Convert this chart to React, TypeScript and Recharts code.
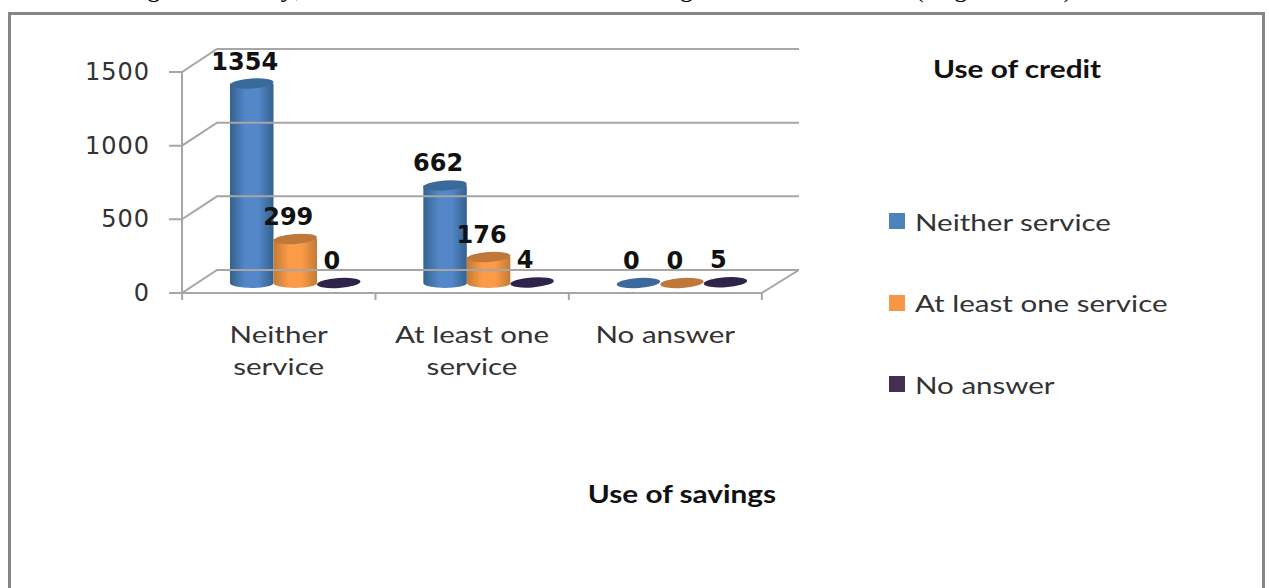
import { BarChart, Bar, XAxis, YAxis, Legend, LabelList, Label } from 'recharts';

const categories = ['Neither service', 'At least one service', 'No answer'];
const neitherValues = [1354, 662, 0];
const atLeastOneValues = [299, 176, 0];
const noAnswerValues = [0, 4, 5];
const yTicks = [0, 500, 1000, 1500];
const clippedWords = [
  { text: 'using', left: 92 },
  { text: 'they,', left: 240 },
  { text: 'savings', left: 610 },
  { text: '(Figure 1.2)', left: 915 },
];

const data = categories.map((name, i) => ({
  name,
  neither: neitherValues[i],
  atLeastOne: atLeastOneValues[i],
  noAnswer: noAnswerValues[i],
}));

const GRID = '#a6a6a6';
const TEXT_FONT = "Lato, 'Open Sans', sans-serif";
const STRETCH = 1.23; // the picture's text is wider than any installed font
const STRETCH_BOLD = 1.24;
const DEPTH_X = 35;
const DEPTH_Y = 23;
const BAR_DX = 17;
const BAR_DY = 10;
const BAND = 193;
const TICK_GAP = 8; // recharts pushes the tick this far off the axis line

const tones = {
  neither: { id: 'gradBlue', side: '#34618f', mid: '#5387c8', top: '#3a6a9c' },
  atLeastOne: { id: 'gradOrange', side: '#c47a35', mid: '#fb9b47', top: '#c0783a' },
  noAnswer: { id: 'gradDark', side: '#2a1f45', mid: '#43305f', top: '#2e2349' },
};

const Cylinder = (props: any) => {
  const { x, y, width, height, tone } = props;
  const t = tones[tone as keyof typeof tones];
  const left = x + BAR_DX;
  const right = left + width;
  const top = y - BAR_DY;
  const bottom = top + height;
  const cx = left + width / 2;
  const ry = 5;
  return (
    <g>
      {height > 1 && (
        <path
          d={`M${left},${top} L${left},${bottom} A${width / 2},${ry} 0 0 0 ${right},${bottom} L${right},${top} Z`}
          fill={`url(#${t.id})`}
        />
      )}
      <ellipse
        cx={cx}
        cy={top}
        rx={width / 2}
        ry={ry}
        fill={t.top}
        transform={`rotate(-4 ${cx} ${top})`}
      />
    </g>
  );
};

const YTick = ({ x, y, payload }: any) => {
  const ax = x + TICK_GAP;
  return (
    <g>
      <path
        d={`M${ax - 13},${y} L${ax},${y} L${ax + DEPTH_X},${y - DEPTH_Y} L799,${y - DEPTH_Y}`}
        fill='none'
        stroke={GRID}
        strokeWidth={2}
      />
      <text
        x={x - 24}
        y={y + 8}
        textAnchor='end'
        fontFamily='DejaVu Sans'
        fontSize={24}
        letterSpacing={1}
        fill='#333'
      >
        {payload.value}
      </text>
    </g>
  );
};

const XTick = ({ x, y, payload, index }: any) => {
  const axisY = y - TICK_GAP;
  const words = String(payload.value).split(' ');
  const lines =
    payload.value === 'No answer'
      ? [payload.value]
      : [words.slice(0, -1).join(' '), words[words.length - 1]];
  return (
    <g>
      <line x1={x - BAND / 2} x2={x - BAND / 2} y1={axisY} y2={axisY + 7} stroke={GRID} strokeWidth={2} />
      {index === categories.length - 1 && (
        <path
          d={`M${x + BAND / 2},${axisY + 7} L${x + BAND / 2},${axisY} L${x + BAND / 2 + DEPTH_X + 2},${axisY - DEPTH_Y}`}
          fill='none'
          stroke={GRID}
          strokeWidth={2}
        />
      )}
      {lines.map((line, i) => (
        <text
          key={line}
          transform={`translate(${x} ${axisY + 50 + i * 32}) scale(${STRETCH} 1)`}
          textAnchor='middle'
          fontFamily={TEXT_FONT}
          fontSize={24}
          fill='#333'
        >
          {line}
        </text>
      ))}
    </g>
  );
};

const ValueLabel = ({ x, y, width, value }: any) => (
  <text
    x={x + BAR_DX + width / 2 - 7}
    y={y - BAR_DY - 14}
    textAnchor='middle'
    fontFamily='DejaVu Sans'
    fontWeight='bold'
    fontSize={24}
    fill='#111'
  >
    {value}
  </text>
);

const SavingsTitle = ({ viewBox }: any) => {
  const cx = viewBox.x + viewBox.width / 2 + 210;
  return (
    <text
      transform={`translate(${cx} ${viewBox.y + 210}) scale(${STRETCH_BOLD} 1)`}
      textAnchor='middle'
      fontFamily={TEXT_FONT}
      fontWeight='bold'
      fontSize={24}
      fill='#111'
    >
      Use of savings
    </text>
  );
};

// zero height so the legend takes no room from the plot area
const LegendBox = ({ payload }: any) => (
  <div style={{ position: 'relative', width: 320, height: 0 }}>
    <div
      style={{
        position: 'absolute',
        left: 44,
        top: 0,
        fontFamily: TEXT_FONT,
        fontWeight: 'bold',
        fontSize: 24,
        lineHeight: '30px',
        color: '#111',
        whiteSpace: 'nowrap',
        transform: `scaleX(${STRETCH_BOLD})`,
        transformOrigin: 'left',
      }}
    >
      Use of credit
    </div>
    {(payload || []).map((entry: any, i: number) => (
      <div
        key={entry.value}
        style={{
          position: 'absolute',
          left: 0,
          top: 152 + i * 81.5,
          display: 'flex',
          alignItems: 'center',
          height: 30,
          whiteSpace: 'nowrap',
        }}
      >
        <span style={{ width: 16, height: 16, marginRight: 10, background: entry.color, display: 'block' }} />
        <span
          style={{
            fontFamily: TEXT_FONT,
            fontSize: 24,
            color: '#333',
            transform: `scaleX(${STRETCH})`,
            transformOrigin: 'left',
          }}
        >
          {entry.value}
        </span>
      </div>
    ))}
  </div>
);

export default function App() {
  return (
    <div style={{ position: 'absolute', left: 0, top: 0, width: 1269, height: 588, overflow: 'hidden', background: '#fff' }}>
      {clippedWords.map((w) => (
        <span
          key={w.text}
          style={{
            position: 'absolute',
            left: w.left,
            top: -26,
            fontFamily: "'Liberation Serif', serif",
            fontSize: 26,
            lineHeight: '30px',
            whiteSpace: 'nowrap',
            letterSpacing: 3,
            color: '#000',
          }}
        >
          {w.text}
        </span>
      ))}
      <div
        style={{
          position: 'absolute',
          left: 8,
          top: 12,
          width: 1257,
          height: 600,
          border: '3px solid #868686',
          boxSizing: 'border-box',
        }}
      />
      <div style={{ position: 'absolute', left: 0, top: 0 }}>
        <BarChart
          width={1269}
          height={588}
          data={data}
          margin={{ top: 72, right: 507, bottom: 0, left: 122 }}
          barCategoryGap={27}
          barGap={0}
          barSize={43.5}
        >
          <defs>
            {Object.values(tones).map((t) => (
              <linearGradient key={t.id} id={t.id} x1='0' x2='1' y1='0' y2='0'>
                <stop offset='0' stopColor={t.side} />
                <stop offset='0.35' stopColor={t.mid} />
                <stop offset='0.65' stopColor={t.mid} />
                <stop offset='1' stopColor={t.side} />
              </linearGradient>
            ))}
          </defs>
          <XAxis
            dataKey='name'
            height={295}
            interval={0}
            tickLine={false}
            axisLine={{ stroke: GRID, strokeWidth: 2 }}
            tick={<XTick />}
          >
            <Label content={<SavingsTitle />} />
          </XAxis>
          <YAxis
            width={60}
            domain={[0, 1500]}
            ticks={yTicks}
            tickLine={false}
            axisLine={{ stroke: GRID, strokeWidth: 2 }}
            tick={<YTick />}
          />
          <Legend
            verticalAlign='top'
            align='left'
            itemSorter={null}
            wrapperStyle={{ position: 'absolute', left: 889, top: 54, width: 320 }}
            content={<LegendBox />}
          />
          <Bar dataKey='neither' name='Neither service' fill='#4f81bd' isAnimationActive={false} shape={<Cylinder tone='neither' />}>
            <LabelList dataKey='neither' content={<ValueLabel />} />
          </Bar>
          <Bar dataKey='atLeastOne' name='At least one service' fill='#f79646' isAnimationActive={false} shape={<Cylinder tone='atLeastOne' />}>
            <LabelList dataKey='atLeastOne' content={<ValueLabel />} />
          </Bar>
          <Bar dataKey='noAnswer' name='No answer' fill='#403152' isAnimationActive={false} shape={<Cylinder tone='noAnswer' />}>
            <LabelList dataKey='noAnswer' content={<ValueLabel />} />
          </Bar>
        </BarChart>
      </div>
    </div>
  );
}
